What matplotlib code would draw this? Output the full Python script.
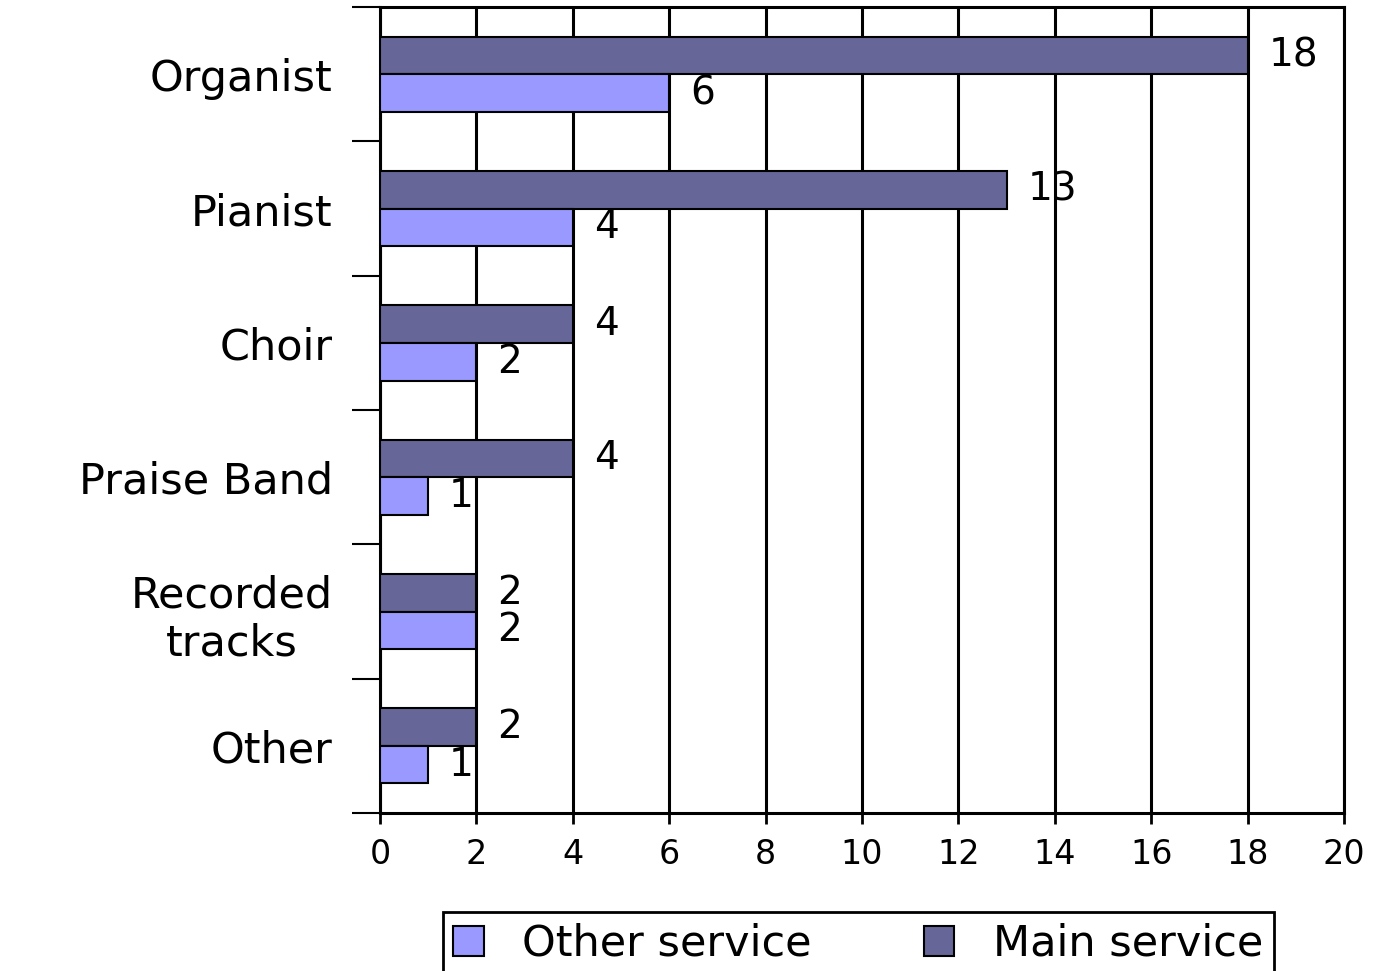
import numpy as np
import matplotlib.pyplot as plt
from matplotlib.ticker import FixedLocator

# data
categories = ['Organist', 'Pianist', 'Choir', 'Praise Band', 'Recorded\ntracks', 'Other']
main_service = [18, 13, 4, 4, 2, 2]
other_service = [6, 4, 2, 1, 2, 1]

main_color = '#666699'
other_color = '#9999FF'

fig = plt.figure(figsize=(13.76, 9.71), dpi=100)
ax = fig.add_axes([0.2762, 0.1627, 0.7006, 0.830])

y = np.arange(len(categories))
h = 0.28
ax.barh(y - h / 2, main_service, height=h, color=main_color, edgecolor='black',
        linewidth=1.5, label='Main service', zorder=3)
ax.barh(y + h / 2, other_service, height=h, color=other_color, edgecolor='black',
        linewidth=1.5, label='Other service', zorder=3)

for i in range(len(categories)):
    ax.annotate(str(main_service[i]), (main_service[i], y[i] - h / 2), xytext=(15, 0),
                textcoords='offset points', va='center', ha='left', fontsize=28)
    ax.annotate(str(other_service[i]), (other_service[i], y[i] + h / 2), xytext=(15, 0),
                textcoords='offset points', va='center', ha='left', fontsize=28)

ax.set_xlim(0, 20)
ax.set_ylim(len(categories) - 0.5, -0.5)
ax.set_xticks(np.arange(0, 21, 2))
ax.tick_params(axis='x', labelsize=24, length=8, width=2, direction='out', pad=10)
ax.set_yticks(y)
ax.set_yticklabels(categories, fontsize=31)
ax.tick_params(axis='y', which='major', length=0, pad=34)
for lbl in ax.get_yticklabels():
    lbl.set_multialignment('center')
ax.yaxis.set_minor_locator(FixedLocator(np.arange(-0.5, len(categories), 1)))
ax.tick_params(axis='y', which='minor', length=20, width=1.5, direction='out')

ax.grid(axis='x', color='black', linewidth=2.2, zorder=0)
ax.set_axisbelow(True)
for s in ax.spines.values():
    s.set_linewidth(2.2)

handles, labels = ax.get_legend_handles_labels()
leg = ax.legend(handles[::-1], labels[::-1], loc='upper center',
                bbox_to_anchor=(0.496, -0.123), ncol=2,
                frameon=True, fancybox=False, edgecolor='black', framealpha=1,
                handlelength=0.7, handleheight=0.7, columnspacing=2.6,
                handletextpad=0.9, borderpad=0.25, borderaxespad=0,
                prop={'size': 31})
leg.get_frame().set_linewidth(2)

fig.savefig('out.png', dpi=100)
